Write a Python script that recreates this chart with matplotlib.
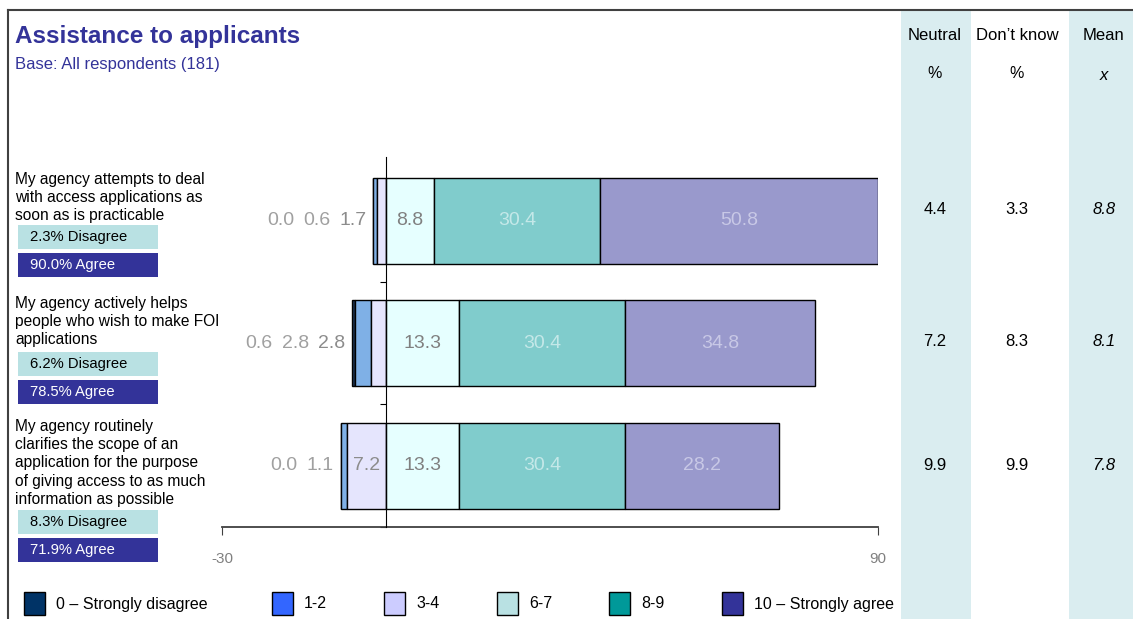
import matplotlib
matplotlib.use("Agg")
import matplotlib.pyplot as plt
from matplotlib.patches import Rectangle

plt.rcParams["font.family"] = ["Liberation Sans", "DejaVu Sans"]

W, H = 1133, 619

statements = [
    "My agency attempts to deal\nwith access applications as\nsoon as is practicable",
    "My agency actively helps\npeople who wish to make FOI\napplications",
    "My agency routinely\nclarifies the scope of an\napplication for the purpose\nof giving access to as much\ninformation as possible",
]
# disagree side: 0, 1-2, 3-4 ; agree side: 6-7, 8-9, 10
score_0 = [0.0, 0.6, 0.0]
score_1_2 = [0.6, 2.8, 1.1]
score_3_4 = [1.7, 2.8, 7.2]
score_6_7 = [8.8, 13.3, 13.3]
score_8_9 = [30.4, 30.4, 30.4]
score_10 = [50.8, 34.8, 28.2]
disagree_pct = [2.3, 6.2, 8.3]
agree_pct = [90.0, 78.5, 71.9]
neutral = [4.4, 7.2, 9.9]
dont_know = [3.3, 8.3, 9.9]
mean = [8.8, 8.1, 7.8]

legend_labels = ["0 \u2013 Strongly disagree", "1-2", "3-4", "6-7", "8-9", "10 \u2013 Strongly agree"]
legend_colors = ["#003366", "#3366ff", "#ccccff", "#b9e1e3", "#009999", "#333399"]
bar_colors = ["#1c3353", "#7fb0e6", "#e5e5fd", "#e6ffff", "#80cccc", "#9999cc"]
label_colors = ["#a0a0a0", "#a0a0a0", "#8c8c8c", "#808080", "#c4e8e8", "#c8c8e6"]


def fx(x):
    return x / W


def fy(y):
    return 1 - y / H


fig = plt.figure(figsize=(W / 100, H / 100), dpi=100)
fig.patch.set_facecolor("white")

# shaded columns on the right
for x0, x1 in [(901, 971), (1069, 1133)]:
    fig.patches.append(Rectangle((fx(x0), 0), fx(x1 - x0), fy(11), transform=fig.transFigure,
                                 facecolor="#daedf0", edgecolor="none", zorder=0))
# frame lines (top and left)
fig.add_artist(plt.Line2D([fx(8), 1], [fy(10), fy(10)], color="#404040", lw=1.5))
fig.add_artist(plt.Line2D([fx(8), fx(8)], [0, fy(10)], color="#404040", lw=1.5))

ax = fig.add_axes([fx(222), fy(527), fx(878 - 222), (527 - 157) / H])
ax.set_xlim(-30, 90)
ax.set_ylim(2.5, -0.52)
ax.patch.set_alpha(0)

rows = range(len(statements))
bh = 0.70
fs_bar = 14
for i in rows:
    left_vals = [score_0[i], score_1_2[i], score_3_4[i]]
    right_vals = [score_6_7[i], score_8_9[i], score_10[i]]
    # disagree side stacked leftwards from 0 (3-4 nearest zero)
    start = -sum(left_vals)
    pos = start
    for k, v in enumerate(left_vals):
        ax.barh(i, v, left=pos, height=bh, color=bar_colors[k], edgecolor="black", linewidth=1.0)
        pos += v
    # labels for disagree side: small ones sit to the left of the bar
    cursor = start - 1.3
    pos = start
    for k, v in enumerate(left_vals):
        if v > 5:
            ax.text(pos + v / 2, i, f"{v:.1f}", ha="center", va="center", fontsize=fs_bar,
                    color=label_colors[k])
        pos += v
    outside = [k for k in range(3) if left_vals[k] <= 5]
    for k in reversed(outside):
        ax.text(cursor, i, f"{left_vals[k]:.1f}", ha="right", va="center", fontsize=fs_bar,
                color=label_colors[k])
        cursor -= 6.6
    pos = 0
    for k, v in enumerate(right_vals):
        ax.barh(i, v, left=pos, height=bh, color=bar_colors[k + 3], edgecolor="black", linewidth=1.0)
        ax.text(pos + v / 2, i, f"{v:.1f}", ha="center", va="center", fontsize=fs_bar,
                color=label_colors[k + 3])
        pos += v

for s in ["top", "right"]:
    ax.spines[s].set_visible(False)
ax.spines["left"].set_position(("data", 0))
ax.spines["left"].set_zorder(5)
ax.spines["left"].set_color("black")
ax.spines["bottom"].set_color("#404040")
ax.spines["bottom"].set_linewidth(1.3)
ax.set_yticks([0.5, 1.5, 2.5])
ax.set_yticklabels([])
ax.tick_params(axis="y", direction="out", length=4, color="black")
ax.set_xticks([-30, 90])
ax.set_xticklabels(["-30", "90"])
ax.tick_params(axis="x", direction="out", length=6, color="#404040", labelcolor="#808080",
               labelsize=11, pad=12)

# title
fig.text(fx(15), fy(36), "Assistance to applicants", fontsize=17.5, fontweight="bold",
         color="#333399", va="center", ha="left")
fig.text(fx(15), fy(64), "Base: All respondents (181)", fontsize=12, color="#333399",
         va="center", ha="left")

# column headers
hdr_x = [935, 1017, 1104]
for x, t in zip(hdr_x, ["Neutral", "Don\u2019t know", "Mean"]):
    fig.text(fx(x), fy(36), t, fontsize=12, ha="center", va="center", color="black")
fig.text(fx(935), fy(73), "%", fontsize=11.5, ha="center", va="center")
fig.text(fx(1017), fy(73), "%", fontsize=11.5, ha="center", va="center")
fig.text(fx(1104), fy(75), "x", fontsize=12, ha="center", va="center", style="italic")

stmt_top = [172, 296, 419]
box_top = [225, 352, 510]
val_y = [210, 342, 465]
for i in rows:
    fig.text(fx(15), fy(stmt_top[i]), statements[i], fontsize=11.2, ha="left", va="top",
             linespacing=1.27, color="black")
    b = box_top[i]
    fig.patches.append(Rectangle((fx(18), fy(b + 24)), fx(140), 24 / H, transform=fig.transFigure,
                                 facecolor="#b9e1e3", edgecolor="none"))
    fig.patches.append(Rectangle((fx(18), fy(b + 52)), fx(140), 24 / H, transform=fig.transFigure,
                                 facecolor="#333399", edgecolor="none"))
    fig.text(fx(30), fy(b + 12), f"{disagree_pct[i]:.1f}% Disagree", fontsize=10.6,
             ha="left", va="center", color="black")
    fig.text(fx(30), fy(b + 40), f"{agree_pct[i]:.1f}% Agree", fontsize=10.6,
             ha="left", va="center", color="white")
    fig.text(fx(935), fy(val_y[i]), f"{neutral[i]:.1f}", fontsize=12, ha="center", va="center")
    fig.text(fx(1017), fy(val_y[i]), f"{dont_know[i]:.1f}", fontsize=12, ha="center", va="center")
    fig.text(fx(1104), fy(val_y[i]), f"{mean[i]:.1f}", fontsize=12, ha="center", va="center",
             style="italic")

# legend
leg_x = [24, 272, 384, 497, 609, 722]
for x, lab, col in zip(leg_x, legend_labels, legend_colors):
    fig.patches.append(Rectangle((fx(x), fy(615)), fx(21), 23 / H, transform=fig.transFigure,
                                 facecolor=col, edgecolor="black", linewidth=1.0))
    fig.text(fx(x + 32), fy(604), lab, fontsize=11.5, ha="left", va="center")

fig.savefig("out.png", dpi=100)
